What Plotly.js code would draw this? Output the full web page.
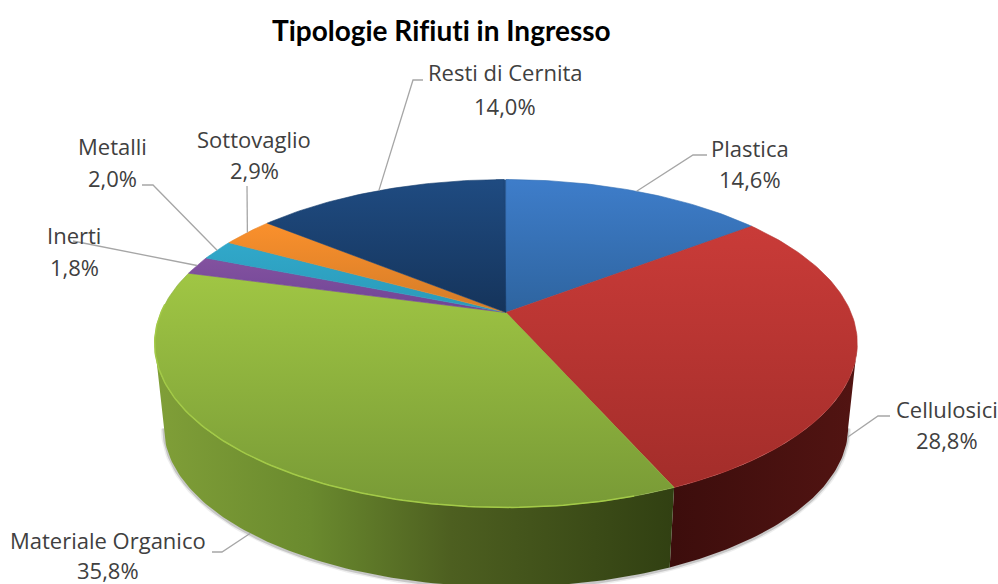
<!DOCTYPE html>
<html><head><meta charset="utf-8">
<script src="https://cdn.plot.ly/plotly-3.0.1.min.js"></script>
<style>html,body{margin:0;padding:0;background:#fff}#c{width:998px;height:584px}svg text{font-variant-ligatures:none!important;font-feature-settings:"liga" 0,"clig" 0!important}</style>
</head><body><div id="c"></div>
<script>
// --- data ---
const categories = ['Plastica','Cellulosici','Materiale Organico','Inerti','Metalli','Sottovaglio','Resti di Cernita'];
const shares = [14.6,28.8,35.8,1.8,2.0,2.9,14.0];
const titleText = 'Tipologie Rifiuti in Ingresso';
// --- styles: [upper colour, lower colour] ---
const topColors = [['#3e7dca','#2e649f'],['#c93b38','#a32d2a'],['#a0c644','#789a36'],['#83529f','#6f4496'],['#31a8ca','#2a9ab8'],['#fa902c','#d47c28'],['#1f4b81','#15345b']];
const midColors = ['#3670b4','#b63431','#8cb03d','#794b9a','#2da1c1','#e7862a','#1a406e'];
const wallScales = {1:[[0,'#3c0d0c'],[1,'#521412']],2:[[0,'#809f38'],[0.3,'#6a8a2e'],[0.57,'#4d5f20'],[1,'#314012']]};
const labelPos = [[750,148,179],[947,409,440],[108,540,570],[74,235,267],[112,146,178],[254,139,170],[505,72,106]];
const elbows = [[[707,155],[693,155]],[[890,416],[878,416]],[[212,552],[222,552]],[[73,241]],[[142,185],[153,185]],[[247,186]],[[423,80],[413,80]]];
// --- projection of the tilted disc ---
const CX=506, TOP={k:345,b:158.1,y:312.5}, BOT={k:336,b:154,y:397}, P=0.189;
function proj(deg,pl){const t=deg*Math.PI/180,X=Math.sin(t),Z=Math.cos(t),w=1+P*Z;
  return [CX+pl.k*X/w, pl.y-pl.b*Z/w];}
function arc(a,b,pl){const n=Math.max(2,Math.ceil(Math.abs(b-a))),o=[];
  for(let i=0;i<=n;i++)o.push(proj(a+(b-a)*i/n,pl));return o;}
const xs=p=>p.map(q=>q[0]), ys=p=>p.map(q=>q[1]);
const edges=[0];shares.forEach(v=>edges.push(edges[edges.length-1]+v*3.6));
const traces=[];
const L_EXT=259, R_EXT=101;
// soft shadow under the wall
[[6,'rgba(120,120,120,0.13)'],[3,'rgba(110,110,110,0.30)']].forEach(([w,c])=>{
  const sh=arc(R_EXT,L_EXT,BOT).map(q=>[q[0],q[1]+1]);
  traces.push({x:xs(sh),y:ys(sh),mode:'lines',line:{color:c,width:w},hoverinfo:'skip'});
});
// walls
[[1,R_EXT,edges[2]],[2,edges[2],L_EXT]].forEach(([i,a,b])=>{
  const p=arc(a,b,TOP).concat(arc(b,a,BOT));
  traces.push({x:xs(p),y:ys(p),mode:'lines',line:{width:0},fill:'toself',
    fillgradient:{type:'horizontal',colorscale:wallScales[i]},hoverinfo:'skip'});
});
// backing of the seams between top slices
const back=arc(-2,4,TOP).concat([[CX,TOP.y]]);
traces.push({x:xs(back),y:ys(back),mode:'lines',line:{width:0},fill:'toself',fillcolor:'#28558c',hoverinfo:'skip'});
// top slices
shares.forEach((v,i)=>{
  const p=[[CX,TOP.y]].concat(arc(edges[i],edges[i+1],TOP));p.push([CX,TOP.y]);
  traces.push({x:xs(p),y:ys(p),mode:'lines',line:{width:0.6,color:midColors[i]},fill:'toself',
    fillgradient:{type:'vertical',colorscale:[[0,topColors[i][1]],[1,topColors[i][0]]]},
    hoverinfo:'skip',name:categories[i]});
});
// rim highlight on the green front edge
const rim=arc(edges[2]+6,L_EXT+14,TOP);
traces.push({x:xs(rim),y:ys(rim),mode:'lines',line:{color:'#a3ca48',width:1.5},hoverinfo:'skip'});
// leader lines, ending on the rim at each slice's mid angle
shares.forEach((v,i)=>{
  const mid=(edges[i]+edges[i+1])/2, onFront=mid>90&&mid<270;
  const p=elbows[i].concat([proj(mid,onFront?BOT:TOP)]);
  traces.push({x:xs(p),y:ys(p),mode:'lines',line:{color:'#a6a6a6',width:1.3},hoverinfo:'skip'});
});
// labels
const font={family:'"Open Sans", sans-serif',size:22,color:'#404040'};
const ann=[{x:441,y:30,text:'<b>'+titleText+'</b>',font:{family:'Lato, sans-serif',size:28,color:'#000'}}];
categories.forEach((c,i)=>{
  ann.push({x:labelPos[i][0],y:labelPos[i][1],text:c,font});
  ann.push({x:labelPos[i][0],y:labelPos[i][2],text:shares[i].toFixed(1).replace('.',',')+'%',font});
});
ann.forEach(a=>Object.assign(a,{xref:'x',yref:'y',showarrow:false,xanchor:'center',yanchor:'middle'}));
Plotly.newPlot('c',traces,{
  width:998,height:584,margin:{l:0,r:0,t:0,b:0},paper_bgcolor:'#fff',plot_bgcolor:'#fff',showlegend:false,
  xaxis:{range:[0,998],visible:false,fixedrange:true},
  yaxis:{range:[584,0],visible:false,fixedrange:true},
  annotations:ann,hovermode:false
},{displayModeBar:false,staticPlot:true});
</script></body></html>
